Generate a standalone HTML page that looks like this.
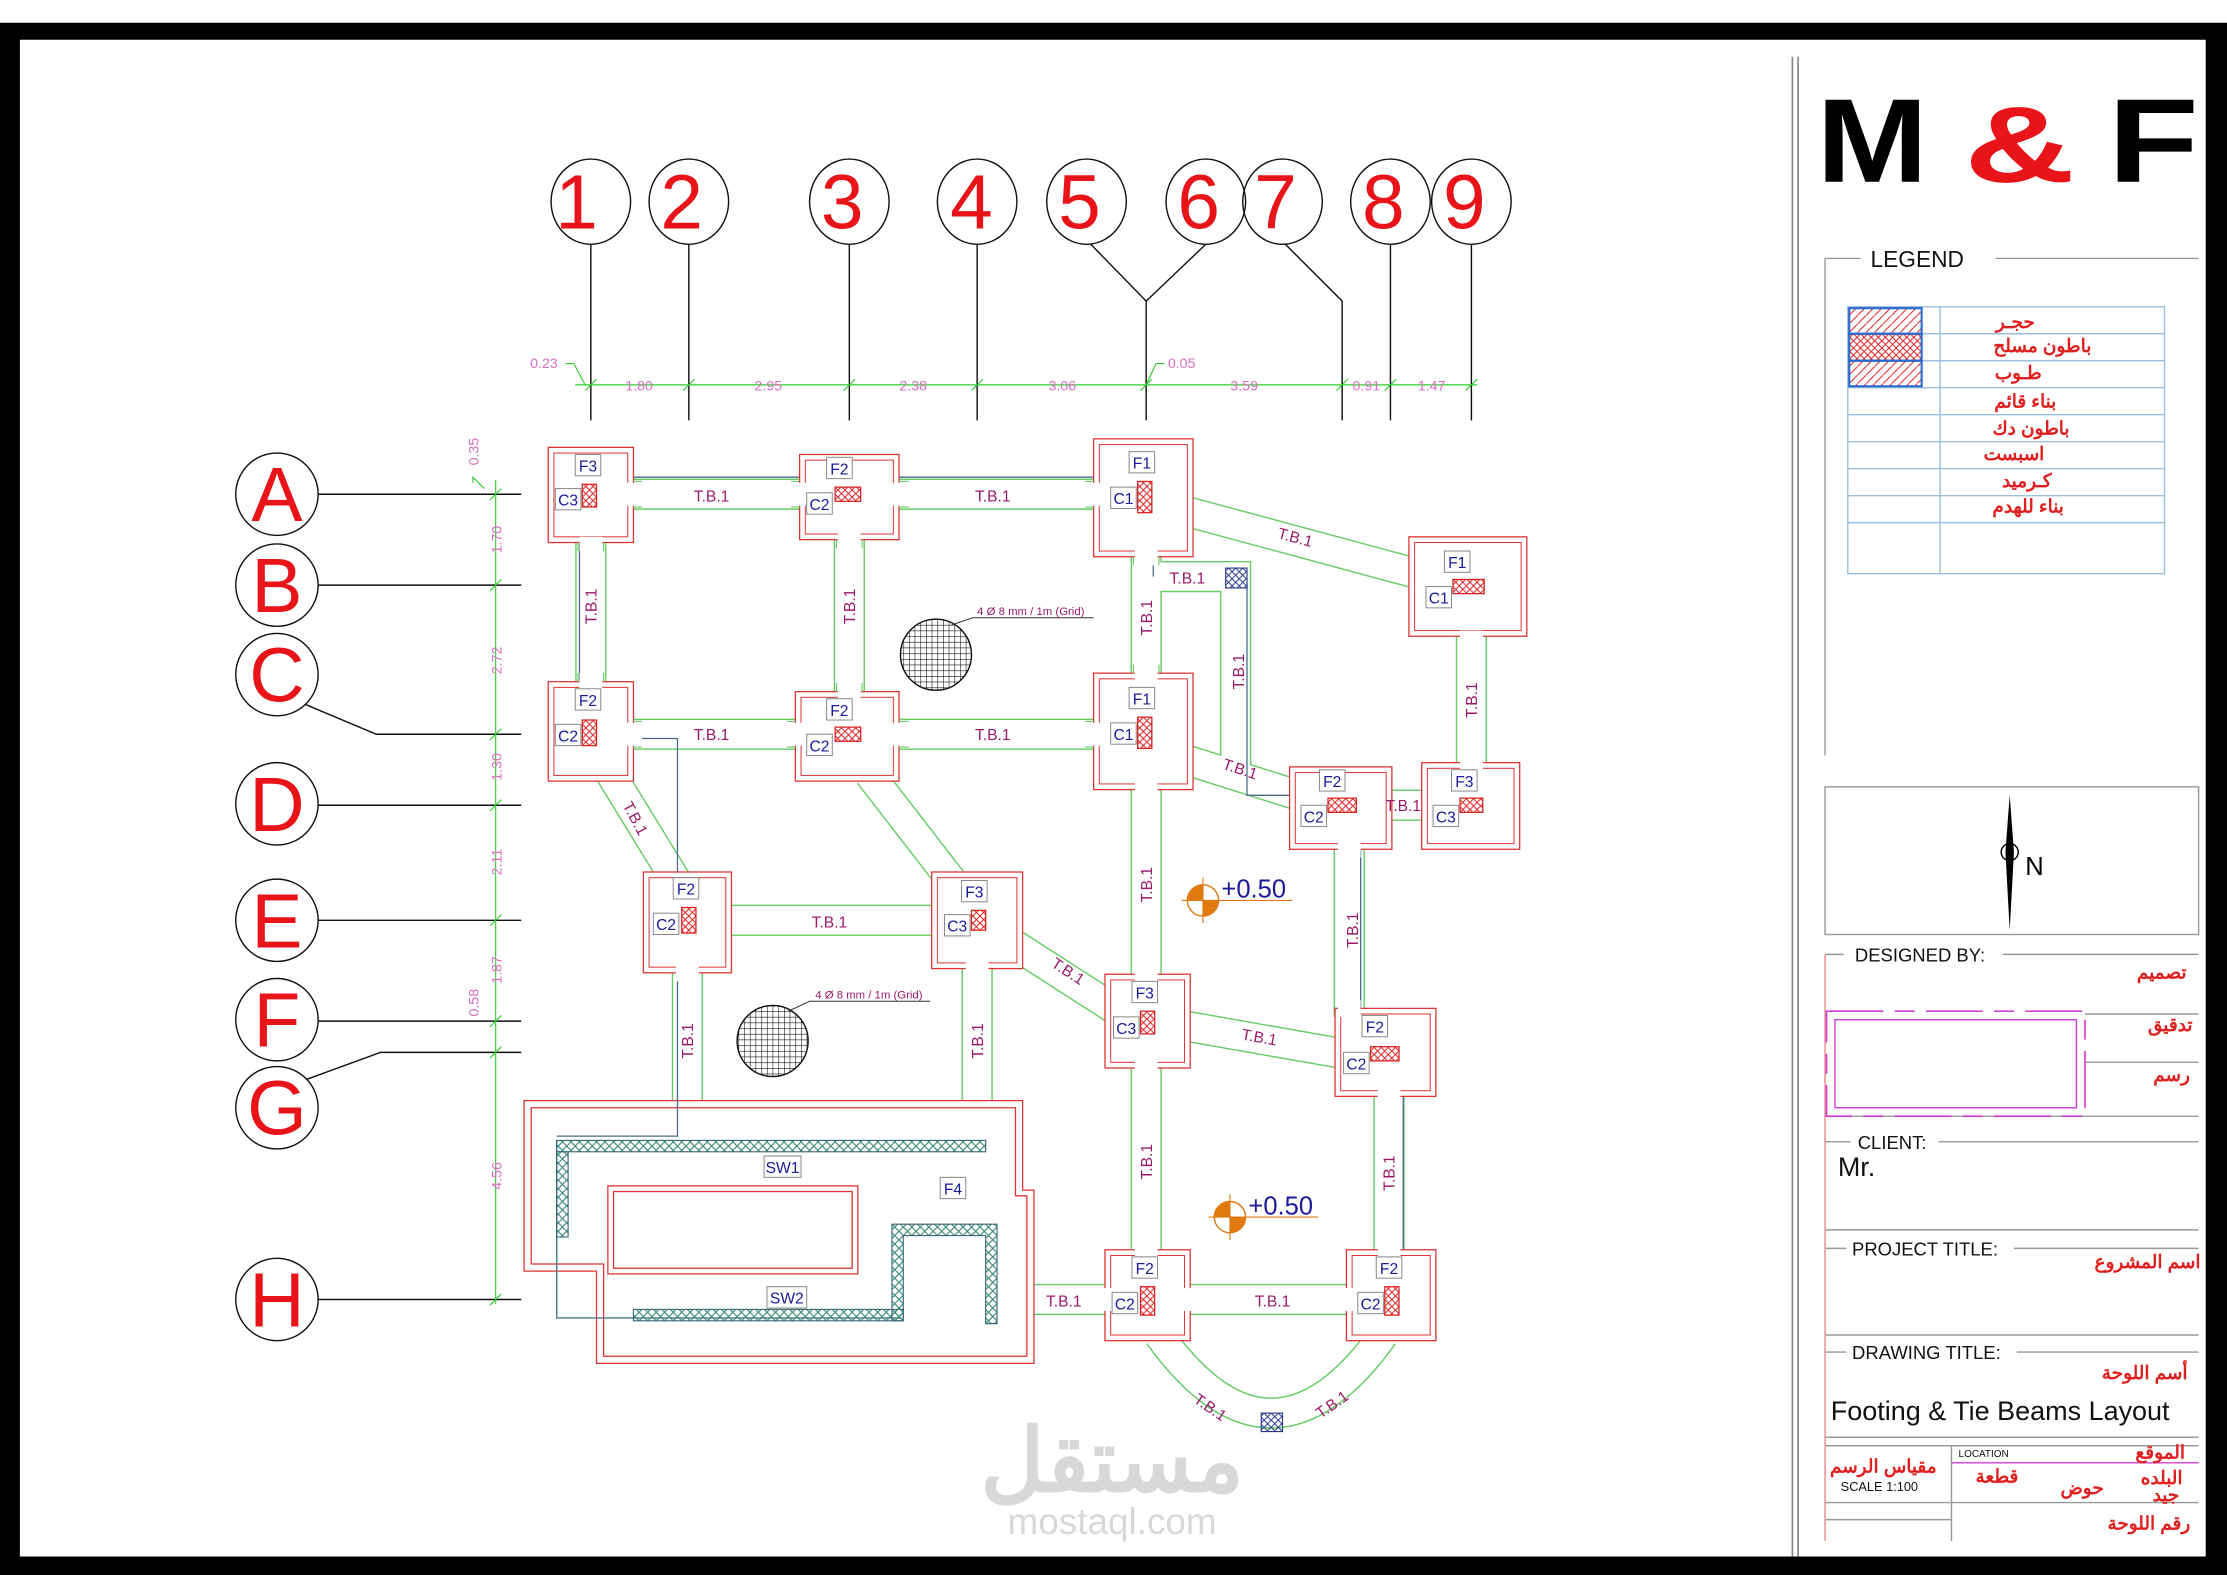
<!DOCTYPE html>
<html><head><meta charset="utf-8"><style>
html,body{margin:0;padding:0;background:#fff;}
svg{display:block;}
text{font-family:"Liberation Sans","Noto Sans CJK SC",sans-serif;}
.tb{fill:#9b1a6b;font-size:11px;font-family:"Liberation Sans Narrow","Liberation Sans",sans-serif;}
.lb{fill:#1a1a9a;font-size:11px;}
.dim{fill:#d86fc0;font-size:10px;font-family:"Liberation Sans Narrow","Liberation Sans",sans-serif;}
.ar{fill:#e02020;font-size:13px;font-weight:bold;font-family:"Liberation Sans","Noto Sans CJK SC",sans-serif;}
.tt{fill:#111;font-size:13px;}
</style></head><body>
<svg width="2227" height="1575" viewBox="0 0 1568 1109" preserveAspectRatio="none" xmlns="http://www.w3.org/2000/svg">
<defs>
<pattern id="xh" width="5" height="5" patternUnits="userSpaceOnUse"><path d="M0 0L5 5M5 0L0 5" stroke="#d22" stroke-width="0.7"/></pattern>
<pattern id="xb" width="5" height="5" patternUnits="userSpaceOnUse"><path d="M0 0L5 5M5 0L0 5" stroke="#2a3a8a" stroke-width="0.7"/></pattern>
<pattern id="xt" width="6" height="6" patternUnits="userSpaceOnUse"><path d="M0 0L6 6M6 0L0 6" stroke="#3a8a7a" stroke-width="0.8"/></pattern>
<pattern id="dg" width="6" height="6" patternUnits="userSpaceOnUse"><path d="M0 6L6 0" stroke="#d22" stroke-width="0.7"/></pattern>
<pattern id="grid" width="4" height="4" patternUnits="userSpaceOnUse"><path d="M0 0H4M0 0V4" stroke="#111" stroke-width="0.8"/></pattern>
</defs>
<rect x="0" y="0" width="1568" height="1109" fill="#fff"/>
<path d="M0 16H1568V1109H0Z M14 28V1096H1553V28Z" fill="#000" fill-rule="evenodd"/>
<line x1="1262" y1="40" x2="1262" y2="1096" stroke="#888" stroke-width="1.2"/>
<line x1="1266" y1="40" x2="1266" y2="1096" stroke="#888" stroke-width="1.2"/>

<!-- logo -->
<text transform="translate(1279,128) scale(1.12,1)" font-size="84" font-weight="bold" fill="#000">M</text>
<text transform="translate(1383,128) scale(1.35,0.95)" font-size="80" font-weight="bold" fill="#e8141a">&amp;</text>
<text transform="translate(1484,128) scale(1.25,1)" font-size="84" font-weight="bold" fill="#000">F</text>

<!-- legend -->
<path d="M1310 182H1285V532M1405 182H1548" fill="none" stroke="#999" stroke-width="1"/>
<text x="1317" y="188" font-size="16" fill="#111">LEGEND</text>
<g stroke="#9cc0e0" stroke-width="1" fill="none">
<rect x="1301" y="216" width="223" height="188"/>
<line x1="1366" y1="216" x2="1366" y2="404"/>
<line x1="1301" y1="235" x2="1524" y2="235"/><line x1="1301" y1="254" x2="1524" y2="254"/>
<line x1="1301" y1="273" x2="1524" y2="273"/><line x1="1301" y1="292" x2="1524" y2="292"/>
<line x1="1301" y1="311" x2="1524" y2="311"/><line x1="1301" y1="330" x2="1524" y2="330"/>
<line x1="1301" y1="349" x2="1524" y2="349"/><line x1="1301" y1="368" x2="1524" y2="368"/>
</g>
<rect x="1302" y="217" width="51" height="18" fill="url(#dg)" stroke="#2a6ad0" stroke-width="1.5"/>
<rect x="1302" y="235" width="51" height="19" fill="url(#xh)" stroke="#2a6ad0" stroke-width="1.5"/>
<rect x="1302" y="254" width="51" height="18" fill="url(#dg)" stroke="#2a6ad0" stroke-width="1.5"/>
<g class="ar" text-anchor="middle">
<text x="1419" y="231">حجـر</text><text x="1438" y="248">باطون مسلح</text><text x="1421" y="267">طـوب</text>
<text x="1426" y="287">بناء قائم</text><text x="1430" y="306">باطون دك</text><text x="1418" y="324">اسبست</text>
<text x="1427" y="343">كـرميد</text><text x="1428" y="361">بناء للهدم</text>
</g>

<!-- north -->
<rect x="1285" y="554" width="263" height="104" fill="none" stroke="#999"/>
<path d="M1415 560L1418 600L1415 655L1412 600Z" fill="#000"/>
<circle cx="1415" cy="600" r="6" fill="none" stroke="#000"/>
<text x="1426" y="616" font-size="18" fill="#000">N</text>

<!-- title block -->
<g stroke="#999" stroke-width="1" fill="none">
<path d="M1285 672H1298M1410 672H1548"/>
<line x1="1285" y1="786" x2="1548" y2="786"/>
<path d="M1285 804H1303M1365 804H1548"/>
<line x1="1285" y1="866" x2="1548" y2="866"/>
<path d="M1285 879H1300M1418 879H1548"/>
<line x1="1285" y1="940" x2="1548" y2="940"/>
<path d="M1285 952H1300M1420 952H1548"/>
<line x1="1285" y1="1012" x2="1548" y2="1012"/>
<line x1="1285" y1="1018" x2="1548" y2="1018"/>
<line x1="1374" y1="1018" x2="1374" y2="1085"/>
<line x1="1285" y1="1058" x2="1548" y2="1058"/>
<line x1="1285" y1="1070" x2="1374" y2="1070"/>
<line x1="1468" y1="748" x2="1548" y2="748"/>
<line x1="1468" y1="714" x2="1548" y2="714"/>
</g>
<line x1="1285" y1="672" x2="1285" y2="1085" stroke="#e88" stroke-width="1"/>
<rect x="1286" y="712" width="182" height="74" fill="none" stroke="#d040d0" stroke-width="1.2" stroke-dasharray="40 8 14 8"/>
<rect x="1292" y="718" width="170" height="62" fill="none" stroke="#d040d0" stroke-width="1"/>
<line x1="1374" y1="1030" x2="1548" y2="1030" stroke="#d040d0"/>
<text x="1306" y="677" class="tt">DESIGNED BY:</text>
<text x="1308" y="809" class="tt">CLIENT:</text>
<text x="1294" y="828" font-size="19" fill="#111">Mr.</text>
<text x="1304" y="884" class="tt">PROJECT TITLE:</text>
<text x="1304" y="957" class="tt">DRAWING TITLE:</text>
<text x="1289" y="1000" font-size="19" fill="#111">Footing &amp; Tie Beams Layout</text>
<text x="1379" y="1026" font-size="7" fill="#111">LOCATION</text>
<text x="1296" y="1050" font-size="9" fill="#111">SCALE   1:100</text>
<g class="ar" text-anchor="middle" font-size="11">
<text x="1522" y="689">تصميم</text><text x="1528" y="726">تدقيق</text><text x="1529" y="761">رسم</text>
<text x="1512" y="893">اسم المشروع</text><text x="1510" y="971">أسم اللوحة</text>
<text x="1521" y="1027">الموقع</text><text x="1522" y="1045">البلده</text><text x="1525" y="1057">جيد</text>
<text x="1326" y="1037">مقياس الرسم</text><text x="1406" y="1044">قطعة</text><text x="1466" y="1052">حوض</text>
<text x="1513" y="1077">رقم اللوحة</text>
</g>

<!-- column grid bubbles -->
<g stroke="#111" stroke-width="1" fill="none">
<ellipse cx="416" cy="142" rx="28" ry="30"/><ellipse cx="485" cy="142" rx="28" ry="30"/>
<ellipse cx="598" cy="142" rx="28" ry="30"/><ellipse cx="688" cy="142" rx="28" ry="30"/>
<ellipse cx="765" cy="142" rx="28" ry="30"/><ellipse cx="849" cy="142" rx="28" ry="30"/>
<ellipse cx="903" cy="142" rx="28" ry="30"/><ellipse cx="979" cy="142" rx="28" ry="30"/>
<ellipse cx="1036" cy="142" rx="28" ry="30"/>
<path d="M416 172V296M485 172V296M598 172V296M688 172V296M979 172V296M1036 172V296"/>
<path d="M768 172L807 212V296M849 172L807 212M905 172L945 212V296"/>
<circle cx="195" cy="348" r="29"/><circle cx="195" cy="412" r="29"/><circle cx="195" cy="475" r="29"/>
<circle cx="195" cy="566" r="29"/><circle cx="195" cy="648" r="29"/><circle cx="195" cy="718" r="29"/>
<circle cx="195" cy="780" r="29"/><circle cx="195" cy="915" r="29"/>
<path d="M224 348H367M224 412H367M215 496L265 517H367M224 567H367M224 648H367M224 719H367M216 760L268 741H367M224 915H367"/>
</g>
<g fill="#e8141a" font-size="54" text-anchor="middle">
<text x="406" y="161">1</text><text x="480" y="161">2</text><text x="593" y="161">3</text><text x="684" y="161">4</text>
<text x="760" y="161">5</text><text x="844" y="161">6</text><text x="898" y="161">7</text><text x="974" y="161">8</text><text x="1031" y="161">9</text>
<text x="195" y="367">A</text><text x="195" y="431">B</text><text x="195" y="494">C</text><text x="195" y="585">D</text>
<text x="195" y="667">E</text><text x="195" y="737">F</text><text x="195" y="799">G</text><text x="195" y="934">H</text>
</g>
<g stroke="#3c3" stroke-width="0.8" fill="none">
<line x1="405" y1="271" x2="1040" y2="271"/>
<line x1="349" y1="338" x2="349" y2="918"/>
<path d="M412 275l8-8M481 275l8-8M594 275l8-8M684 275l8-8M803 275l8-8M941 275l8-8M975 275l8-8M1032 275l8-8"/>
<path d="M345 352l8-8M345 416l8-8M345 521l8-8M345 571l8-8M345 652l8-8M345 723l8-8M345 745l8-8M345 919l8-8"/>
<path d="M398 256H404L412 271M820 256H814L807 271M333 340V336L341 344"/>
</g>
<g class="dim" text-anchor="middle">
<text x="383" y="259">0.23</text><text x="450" y="275">1.80</text><text x="541" y="275">2.95</text><text x="643" y="275">2.38</text>
<text x="748" y="275">3.06</text><text x="876" y="275">3.59</text><text x="962" y="275">0.91</text><text x="1008" y="275">1.47</text>
<text x="832" y="259">0.05</text>
<text transform="translate(337,318) rotate(-90)">0.35</text><text transform="translate(353,380) rotate(-90)">1.70</text>
<text transform="translate(353,465) rotate(-90)">2.72</text><text transform="translate(353,540) rotate(-90)">1.30</text>
<text transform="translate(353,607) rotate(-90)">2.11</text><text transform="translate(353,683) rotate(-90)">1.87</text>
<text transform="translate(337,706) rotate(-90)">0.58</text><text transform="translate(353,828) rotate(-90)">4.56</text>
</g>

<g fill="none" stroke-linecap="butt">
<g stroke="#6c6" stroke-width="22">
<path d="M440 348H570M628 348H776M835 360L998 404M416 376V486M598 374V492M807 386V480M1036 442V542M440 517H566M628 517H776M835 535L914 560M975 567H1006M430 545L476 620M612 545L670 620M510 648H662M714 665L784 710M807 550V692M950 592V716M832 722L946 742M484 680V780M688 676V780M807 746V886M978 766V886M832 915H954M714 915H784M812 406H870V550"/>
<path d="M816 940Q895 1050 974 940" stroke-width="22"/>
</g>
<g stroke="#fff" stroke-width="20">
<path d="M440 348H570M628 348H776M835 360L998 404M416 376V486M598 374V492M807 386V480M1036 442V542M440 517H566M628 517H776M835 535L914 560M975 567H1006M430 545L476 620M612 545L670 620M510 648H662M714 665L784 710M807 550V692M950 592V716M832 722L946 742M484 680V780M688 676V780M807 746V886M978 766V886M832 915H954M714 915H784M812 406H870V550"/>
<path d="M816 940Q895 1050 974 940" stroke-width="20"/>
</g>
</g>

<g fill="#fff" stroke="#d33" stroke-width="0.9">
<path d="M369 775H720V838H728V960H420V895H369Z"/>
<path d="M374 780H715V842H723V955H425V890H374Z" fill="none"/>
<rect x="428" y="835" width="176" height="62"/>
<rect x="432" y="839" width="168" height="54" fill="none"/>
</g>
<path d="M392 803V928H634" fill="none" stroke="#4a7a8a" stroke-width="1"/>
<rect x="392" y="803" width="302" height="8" fill="url(#xt)" stroke="#3a6a7a" stroke-width="0.8"/>
<rect x="392" y="811" width="8" height="60" fill="url(#xt)" stroke="#3a6a7a" stroke-width="0.8"/>
<rect x="446" y="922" width="190" height="8" fill="url(#xt)" stroke="#3a6a7a" stroke-width="0.8"/>
<path d="M628 862H702V932H694V870H636V930H628Z" fill="url(#xt)" stroke="#3a6a7a" stroke-width="0.8"/>
<path d="M408 336H812V406M408 336V520H477V800H392" fill="none" stroke="#4a6a8a" stroke-width="0.9"/>
<path d="M878 410V560H958V740H988V890" fill="none" stroke="#4a6a8a" stroke-width="0.9"/>

<g fill="#fff" stroke="#d33" stroke-width="0.9">
<rect x="386" y="315" width="60" height="67"/><rect x="563" y="320" width="70" height="60"/>
<rect x="770" y="309" width="70" height="83"/><rect x="992" y="378" width="83" height="70"/>
<rect x="386" y="480" width="60" height="70"/><rect x="560" y="487" width="73" height="63"/>
<rect x="770" y="474" width="70" height="82"/><rect x="908" y="540" width="72" height="58"/>
<rect x="1001" y="537" width="69" height="61"/><rect x="453" y="614" width="62" height="71"/>
<rect x="656" y="614" width="64" height="68"/><rect x="778" y="686" width="60" height="66"/>
<rect x="940" y="710" width="71" height="62"/><rect x="778" y="880" width="60" height="64"/>
<rect x="948" y="880" width="63" height="64"/>
</g>
<g fill="none" stroke="#d33" stroke-width="0.7">
<rect x="390" y="319" width="52" height="59"/><rect x="567" y="324" width="62" height="52"/>
<rect x="774" y="313" width="62" height="75"/><rect x="996" y="382" width="75" height="62"/>
<rect x="390" y="484" width="52" height="62"/><rect x="564" y="491" width="65" height="55"/>
<rect x="774" y="478" width="62" height="74"/><rect x="912" y="544" width="64" height="50"/>
<rect x="1005" y="541" width="61" height="53"/><rect x="457" y="618" width="54" height="63"/>
<rect x="660" y="618" width="56" height="60"/><rect x="782" y="690" width="52" height="58"/>
<rect x="944" y="714" width="63" height="54"/><rect x="782" y="884" width="52" height="56"/>
<rect x="952" y="884" width="55" height="56"/>
</g>
<g stroke="#fff" stroke-width="16" fill="none">
<path d="M440 348H452M557 348H572M627 348H640M765 348H778M416 378V388M416 474V486M598 374V386M598 482V494M807 386V398M807 468V480M440 517H452M554 517H566M627 517H640M764 517H776M1036 444V454M1036 531V543M484 679V691M688 676V688M807 550V562M807 680V692M807 746V758M807 874V886M950 592V604M950 704V716M978 766V778M978 874V886M832 915H844M942 915H954M772 915H784"/>
</g>
<g stroke="#6c6" stroke-width="0.8" fill="none">
<path d="M446 339H452M446 357H452M557 339H563M557 357H563M633 339H640M633 357H640M764 339H770M764 357H770M407 382V388M425 382V388M407 474V480M425 474V480M589 380V386M607 380V386M589 481V487M607 481V487M798 392V398M816 392V398M798 468V474M816 468V474M446 508H452M446 526H452M554 508H560M554 526H560M633 508H640M633 526H640M764 508H770M764 526H770"/>
</g>
<rect x="863" y="400" width="15" height="14" fill="url(#xb)" stroke="#2a3a8a" stroke-width="0.8"/>
<rect x="888" y="995" width="15" height="13" fill="url(#xb)" stroke="#2a3a8a" stroke-width="0.8"/>

<g fill="url(#xh)" stroke="#d22" stroke-width="0.9">
<rect x="410" y="341" width="10" height="16"/><rect x="588" y="343" width="18" height="10"/>
<rect x="801" y="339" width="10" height="22"/><rect x="1023" y="408" width="22" height="10"/>
<rect x="410" y="507" width="10" height="18"/><rect x="588" y="512" width="18" height="10"/>
<rect x="801" y="505" width="10" height="22"/><rect x="935" y="562" width="20" height="10"/>
<rect x="1028" y="562" width="16" height="10"/><rect x="480" y="639" width="10" height="18"/>
<rect x="684" y="641" width="10" height="14"/><rect x="803" y="712" width="10" height="16"/>
<rect x="965" y="737" width="20" height="10"/><rect x="803" y="906" width="10" height="20"/>
<rect x="975" y="906" width="10" height="20"/>
</g>
<g fill="#fff" stroke="#888" stroke-width="0.7">
<rect x="405" y="320" width="18" height="15"/><rect x="391" y="344" width="18" height="15"/>
<rect x="582" y="322" width="18" height="15"/><rect x="568" y="347" width="18" height="15"/>
<rect x="795" y="318" width="18" height="15"/><rect x="782" y="343" width="18" height="15"/>
<rect x="1017" y="388" width="18" height="15"/><rect x="1004" y="413" width="18" height="15"/>
<rect x="405" y="485" width="18" height="15"/><rect x="391" y="510" width="18" height="15"/>
<rect x="582" y="492" width="18" height="15"/><rect x="568" y="517" width="18" height="15"/>
<rect x="795" y="484" width="18" height="15"/><rect x="782" y="509" width="18" height="15"/>
<rect x="929" y="542" width="18" height="15"/><rect x="916" y="567" width="18" height="15"/>
<rect x="1022" y="542" width="18" height="15"/><rect x="1009" y="567" width="18" height="15"/>
<rect x="474" y="618" width="18" height="15"/><rect x="460" y="643" width="18" height="15"/>
<rect x="677" y="620" width="18" height="15"/><rect x="665" y="644" width="18" height="15"/>
<rect x="797" y="691" width="18" height="15"/><rect x="784" y="716" width="18" height="15"/>
<rect x="959" y="715" width="18" height="15"/><rect x="946" y="741" width="18" height="15"/>
<rect x="797" y="885" width="18" height="15"/><rect x="783" y="910" width="18" height="15"/>
<rect x="969" y="885" width="18" height="15"/><rect x="956" y="910" width="18" height="15"/>
<rect x="538" y="814" width="26" height="15"/><rect x="662" y="829" width="18" height="15"/>
<rect x="540" y="906" width="28" height="15"/>
</g>
<g class="lb" text-anchor="middle">
<text x="414" y="332">F3</text><text x="400" y="356">C3</text><text x="591" y="334">F2</text><text x="577" y="359">C2</text>
<text x="804" y="330">F1</text><text x="791" y="355">C1</text><text x="1026" y="400">F1</text><text x="1013" y="425">C1</text>
<text x="414" y="497">F2</text><text x="400" y="522">C2</text><text x="591" y="504">F2</text><text x="577" y="529">C2</text>
<text x="804" y="496">F1</text><text x="791" y="521">C1</text><text x="938" y="554">F2</text><text x="925" y="579">C2</text>
<text x="1031" y="554">F3</text><text x="1018" y="579">C3</text><text x="483" y="630">F2</text><text x="469" y="655">C2</text>
<text x="686" y="632">F3</text><text x="674" y="656">C3</text><text x="806" y="703">F3</text><text x="793" y="728">C3</text>
<text x="968" y="727">F2</text><text x="955" y="753">C2</text><text x="806" y="897">F2</text><text x="792" y="922">C2</text>
<text x="978" y="897">F2</text><text x="965" y="922">C2</text>
<text x="551" y="826">SW1</text><text x="671" y="841">F4</text><text x="554" y="918">SW2</text>
</g>
<g class="tb" text-anchor="middle">
<text x="501" y="353">T.B.1</text><text x="699" y="353">T.B.1</text>
<text transform="translate(911,382) rotate(15)">T.B.1</text>
<text transform="translate(420,427) rotate(-90)">T.B.1</text><text transform="translate(602,427) rotate(-90)">T.B.1</text>
<text transform="translate(811,435) rotate(-90)">T.B.1</text><text transform="translate(1040,493) rotate(-90)">T.B.1</text>
<text x="836" y="411">T.B.1</text><text transform="translate(876,473) rotate(-90)">T.B.1</text>
<text x="501" y="521">T.B.1</text><text x="699" y="521">T.B.1</text>
<text transform="translate(872,545) rotate(18)">T.B.1</text><text x="988" y="571">T.B.1</text>
<text transform="translate(444,578) rotate(62)">T.B.1</text>
<text x="584" y="653">T.B.1</text><text transform="translate(750,687) rotate(33)">T.B.1</text>
<text transform="translate(811,623) rotate(-90)">T.B.1</text><text transform="translate(956,655) rotate(-90)">T.B.1</text>
<text transform="translate(886,734) rotate(10)">T.B.1</text>
<text transform="translate(488,733) rotate(-90)">T.B.1</text><text transform="translate(692,733) rotate(-90)">T.B.1</text>
<text transform="translate(811,818) rotate(-90)">T.B.1</text><text transform="translate(982,826) rotate(-90)">T.B.1</text>
<text x="896" y="920">T.B.1</text><text x="749" y="920">T.B.1</text>
<text transform="translate(850,994) rotate(35)">T.B.1</text><text transform="translate(940,992) rotate(-35)">T.B.1</text>
</g>
<ellipse cx="659" cy="461" rx="25" ry="25" fill="url(#grid)" stroke="#111"/>
<ellipse cx="544" cy="733" rx="25" ry="25" fill="url(#grid)" stroke="#111"/>
<path d="M670 440L685 435H770M555 712L570 705H655" fill="none" stroke="#333" stroke-width="0.7"/>
<text x="688" y="433" font-size="8" fill="#9b1a6b">4 Ø 8 mm / 1m (Grid)</text>
<text x="574" y="703" font-size="8" fill="#9b1a6b">4 Ø 8 mm / 1m (Grid)</text>
<g>
<circle cx="847" cy="634" r="11" fill="#fff" stroke="#e07a10"/>
<path d="M847 634V623A11 11 0 0 0 836 634ZM847 634H858A11 11 0 0 1 847 645Z" fill="#e07a10"/>
<path d="M832 634H910M847 618V650" stroke="#e07a10" stroke-width="0.8"/>
<text x="860" y="632" font-size="18" fill="#1a1a9a">+0.50</text>
<circle cx="866" cy="857" r="11" fill="#fff" stroke="#e07a10"/>
<path d="M866 857V846A11 11 0 0 0 855 857ZM866 857H877A11 11 0 0 1 866 868Z" fill="#e07a10"/>
<path d="M851 857H928M866 841V873" stroke="#e07a10" stroke-width="0.8"/>
<text x="879" y="855" font-size="18" fill="#1a1a9a">+0.50</text>
</g>
<text x="783" y="1050" font-size="62" font-weight="bold" fill="#d8d8d8" text-anchor="middle" font-family="'DejaVu Sans',sans-serif">مستقل</text>
<text x="783" y="1080" font-size="26" fill="#d8d8d8" text-anchor="middle">mostaql.com</text>
</svg>
</body></html>
